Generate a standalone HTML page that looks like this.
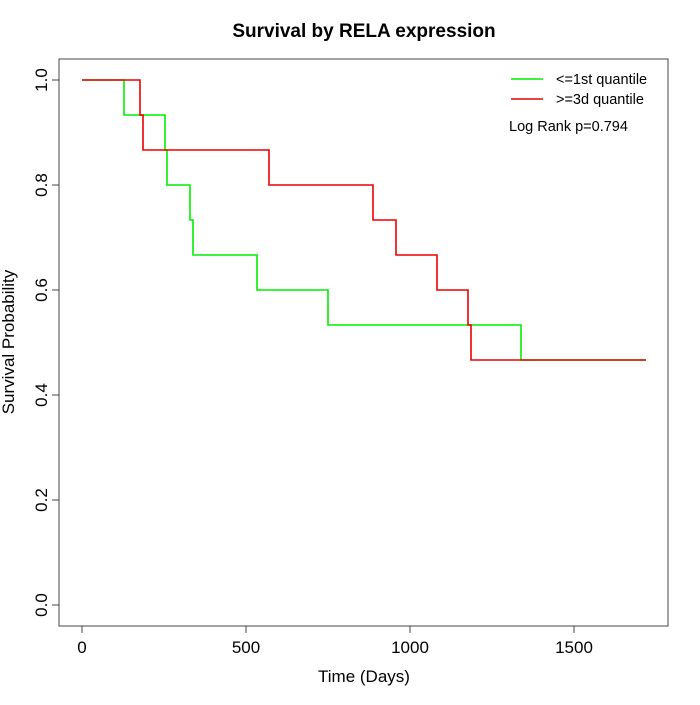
<!DOCTYPE html>
<html><head><style>body{margin:0;background:#fff}</style></head><body>
<svg width="700" height="700" xmlns="http://www.w3.org/2000/svg" font-family="Liberation Sans, Arial, sans-serif">
<rect width="700" height="700" fill="#fff"/>
<text x="364" y="37" text-anchor="middle" font-size="19" font-weight="bold">Survival by RELA expression</text>
<rect x="59" y="59" width="609" height="567" fill="none" stroke="#444" stroke-width="1"/>
<g stroke="#444" fill="none">
<path d="M82,626v7M246,626v7M410,626v7M574,626v7"/>
<path d="M59,80h-7M59,185h-7M59,290h-7M59,395h-7M59,500h-7M59,605h-7"/>
</g>
<g font-size="17" fill="#000" text-anchor="middle">
<text x="82" y="653">0</text><text x="246" y="653">500</text><text x="410" y="653">1000</text><text x="574" y="653">1500</text>
<text x="364" y="682">Time (Days)</text>
<text transform="translate(47,80) rotate(-90)">1.0</text>
<text transform="translate(47,185) rotate(-90)">0.8</text>
<text transform="translate(47,290) rotate(-90)">0.6</text>
<text transform="translate(47,395) rotate(-90)">0.4</text>
<text transform="translate(47,500) rotate(-90)">0.2</text>
<text transform="translate(47,605) rotate(-90)">0.0</text>
<text transform="translate(14,342) rotate(-90)">Survival Probability</text>
</g>
<path d="M82,80H124V115H165V150H167V185H190V220H193V255H257V290H328V325H521V360H646" fill="none" stroke="#00ee00" stroke-width="1.6"/>
<path d="M82,80H140V115H143V150H269V185H373V220H396V255H437V290H468V325H471V360H646" fill="none" stroke="#ee0000" stroke-width="1.6"/>
<line x1="511" y1="79" x2="543" y2="79" stroke="#00ee00" stroke-width="1.6"/>
<line x1="511" y1="99" x2="543" y2="99" stroke="#ee0000" stroke-width="1.6"/>
<g font-size="14.5">
<text x="556" y="84">&lt;=1st quantile</text>
<text x="556" y="104">&gt;=3d quantile</text>
<text x="509" y="131">Log Rank p=0.794</text>
</g>
</svg>
</body></html>
